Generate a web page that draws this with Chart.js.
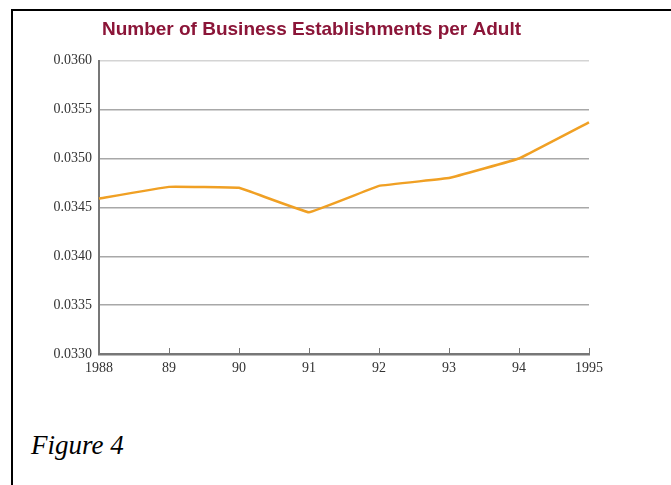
<!DOCTYPE html>
<html>
<head>
<meta charset="utf-8">
<script src="https://cdn.jsdelivr.net/npm/chart.js@4.4.1/dist/chart.umd.min.js"></script>
<style>
  html, body { margin: 0; padding: 0; background: #fff; }
  body { width: 671px; height: 485px; position: relative; overflow: hidden; }
  #frame {
    position: absolute; left: 11px; top: 9px; width: 800px; height: 600px;
    border-left: 2px solid #000; border-top: 2px solid #000;
  }
  #wrap { position: absolute; left: 0; top: 0; width: 671px; height: 400px; }
  #caption {
    position: absolute; left: 31px; top: 430px;
    font: italic 27px "Liberation Serif", "DejaVu Serif", serif; color: #000;
  }
</style>
</head>
<body>
<div id="frame"></div>
<div id="wrap"><canvas id="chart" width="671" height="400"></canvas></div>
<div id="caption">Figure 4</div>
<script>
// values
const years = ["1988", "89", "90", "91", "92", "93", "94", "1995"];
const perAdult = [0.03459, 0.03471, 0.03470, 0.03445, 0.03472, 0.03480, 0.03500, 0.03537];
const yMin = 0.0330, yMax = 0.0360, yStep = 0.0005;
const chartTitle = "Number of Business Establishments per Adult";

// small tick marks pointing up from the x axis
const innerTicks = {
    id: "innerTicks",
    afterDraw(chart) {
        const x = chart.scales.x, c = chart.ctx;
        const bottom = chart.chartArea.bottom;
        c.save();
        c.strokeStyle = "#777";
        c.lineWidth = 1;
        x.ticks.forEach((t, i) => {
            if (i === 0) return;
            const px = Math.round(x.getPixelForTick(i)) + 0.5;
            c.beginPath();
            c.moveTo(px, bottom - 6);
            c.lineTo(px, bottom);
            c.stroke();
        });
        c.restore();
    }
};

const ctx = document.getElementById("chart").getContext("2d");
new Chart(ctx, {
    type: "line",
    data: {
        labels: years,
        datasets: [{
            data: perAdult,
            borderColor: "#f0a024",
            borderWidth: 2.5,
            pointRadius: 0,
            tension: 0.05,
            fill: false
        }]
    },
    options: {
        responsive: false,
        animation: false,
        layout: { padding: { left: 34, right: 82, top: 18, bottom: 0 } },
        plugins: {
            legend: { display: false },
            tooltip: { enabled: false },
            title: {
                display: true,
                text: chartTitle,
                color: "#8b1538",
                font: { family: "Liberation Sans", size: 19, weight: "bold" },
                padding: { top: 0, bottom: 20 }
            }
        },
        scales: {
            x: {
                offset: false,
                afterFit: s => { s.height = 46; },
                grid: { display: true, drawOnChartArea: false, drawTicks: false },
                border: { display: true, color: "#777", width: 2.5 },
                ticks: {
                    color: "#333",
                    padding: 6,
                    maxRotation: 0,
                    font: { family: "Liberation Serif", size: 14 }
                }
            },
            y: {
                min: yMin,
                max: yMax,
                afterFit: s => { s.width = 65; },
                grid: {
                    drawTicks: false,
                    color: ctx => ctx.tick && Math.abs(ctx.tick.value - yMax) < 1e-9 ? "#d4d4d4" : "#a8a8a8",
                    lineWidth: 1.5
                },
                border: { display: true, color: "#777", width: 2 },
                ticks: {
                    stepSize: yStep,
                    color: "#333",
                    padding: 7,
                    font: { family: "Liberation Serif", size: 14 },
                    callback: v => Number(v).toFixed(4)
                }
            }
        }
    },
    plugins: [innerTicks]
});
</script>
</body>
</html>
